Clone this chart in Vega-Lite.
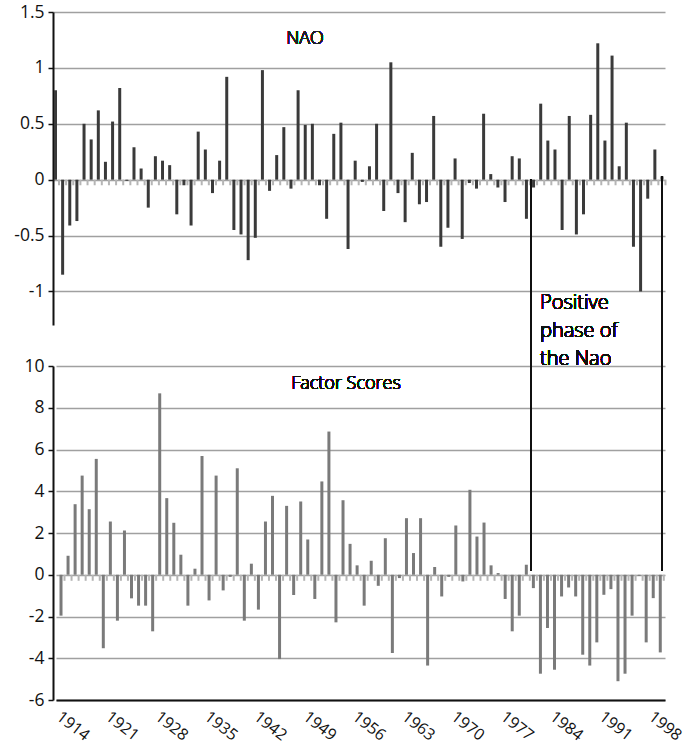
{
  "$schema": "https://vega.github.io/schema/vega-lite/v6.json",
  "width": 612,
  "height": 688,
  "autosize": {"type": "none"},
  "padding": {"left": 53, "top": 12, "right": 23, "bottom": 50},
  "background": "white",
  "config": {
    "view": {"stroke": null},
    "font": "Open Sans",
    "axis": {"labelFont": "Open Sans", "labelColor": "#111111", "labelFontWeight": "normal"}
  },
  "data": {
    "values": [
      {"year": 1914, "nao": 0.80, "factor": -1.96},
      {"year": 1915, "nao": -0.85, "factor": 0.91},
      {"year": 1916, "nao": -0.41, "factor": 3.38},
      {"year": 1917, "nao": -0.37, "factor": 4.75},
      {"year": 1918, "nao": 0.50, "factor": 3.14},
      {"year": 1919, "nao": 0.36, "factor": 5.55},
      {"year": 1920, "nao": 0.62, "factor": -3.52},
      {"year": 1921, "nao": 0.16, "factor": 2.55},
      {"year": 1922, "nao": 0.52, "factor": -2.20},
      {"year": 1923, "nao": 0.82, "factor": 2.12},
      {"year": 1924, "nao": -0.01, "factor": -1.13},
      {"year": 1925, "nao": 0.29, "factor": -1.48},
      {"year": 1926, "nao": 0.10, "factor": -1.48},
      {"year": 1927, "nao": -0.25, "factor": -2.71},
      {"year": 1928, "nao": 0.21, "factor": 8.69},
      {"year": 1929, "nao": 0.17, "factor": 3.67},
      {"year": 1930, "nao": 0.13, "factor": 2.49},
      {"year": 1931, "nao": -0.31, "factor": 0.96},
      {"year": 1932, "nao": -0.05, "factor": -1.48},
      {"year": 1933, "nao": -0.41, "factor": 0.29},
      {"year": 1934, "nao": 0.43, "factor": 5.69},
      {"year": 1935, "nao": 0.27, "factor": -1.23},
      {"year": 1936, "nao": -0.12, "factor": 4.75},
      {"year": 1937, "nao": 0.17, "factor": -0.75},
      {"year": 1938, "nao": 0.92, "factor": -0.10},
      {"year": 1939, "nao": -0.45, "factor": 5.10},
      {"year": 1940, "nao": -0.49, "factor": -2.20},
      {"year": 1941, "nao": -0.72, "factor": 0.53},
      {"year": 1942, "nao": -0.52, "factor": -1.67},
      {"year": 1943, "nao": 0.98, "factor": 2.55},
      {"year": 1944, "nao": -0.10, "factor": 3.78},
      {"year": 1945, "nao": 0.22, "factor": -4.04},
      {"year": 1946, "nao": 0.47, "factor": 3.30},
      {"year": 1947, "nao": -0.08, "factor": -0.97},
      {"year": 1948, "nao": 0.80, "factor": 3.51},
      {"year": 1949, "nao": 0.49, "factor": 1.69},
      {"year": 1950, "nao": 0.50, "factor": -1.16},
      {"year": 1951, "nao": -0.05, "factor": 4.47},
      {"year": 1952, "nao": -0.35, "factor": 6.86},
      {"year": 1953, "nao": 0.41, "factor": -2.28},
      {"year": 1954, "nao": 0.51, "factor": 3.57},
      {"year": 1955, "nao": -0.62, "factor": 1.48},
      {"year": 1956, "nao": 0.17, "factor": 0.45},
      {"year": 1957, "nao": -0.02, "factor": -1.48},
      {"year": 1958, "nao": 0.12, "factor": 0.67},
      {"year": 1959, "nao": 0.50, "factor": -0.53},
      {"year": 1960, "nao": -0.28, "factor": 1.75},
      {"year": 1961, "nao": 1.05, "factor": -3.75},
      {"year": 1962, "nao": -0.12, "factor": -0.16},
      {"year": 1963, "nao": -0.38, "factor": 2.71},
      {"year": 1964, "nao": 0.24, "factor": 1.04},
      {"year": 1965, "nao": -0.22, "factor": 2.71},
      {"year": 1966, "nao": -0.20, "factor": -4.35},
      {"year": 1967, "nao": 0.57, "factor": 0.37},
      {"year": 1968, "nao": -0.60, "factor": -1.04},
      {"year": 1969, "nao": -0.43, "factor": -0.10},
      {"year": 1970, "nao": 0.19, "factor": 2.36},
      {"year": 1971, "nao": -0.53, "factor": -0.32},
      {"year": 1972, "nao": -0.03, "factor": 4.07},
      {"year": 1973, "nao": -0.08, "factor": 1.83},
      {"year": 1974, "nao": 0.59, "factor": 2.50},
      {"year": 1975, "nao": 0.05, "factor": 0.45},
      {"year": 1976, "nao": -0.07, "factor": 0.08},
      {"year": 1977, "nao": -0.20, "factor": -1.16},
      {"year": 1978, "nao": 0.21, "factor": -2.71},
      {"year": 1979, "nao": 0.19, "factor": -1.96},
      {"year": 1980, "nao": -0.35, "factor": 0.48},
      {"year": 1981, "nao": -0.07, "factor": -0.64},
      {"year": 1982, "nao": 0.68, "factor": -4.74},
      {"year": 1983, "nao": 0.35, "factor": -2.55},
      {"year": 1984, "nao": 0.27, "factor": -4.55},
      {"year": 1985, "nao": -0.45, "factor": -1.04},
      {"year": 1986, "nao": 0.57, "factor": -0.61},
      {"year": 1987, "nao": -0.49, "factor": -1.04},
      {"year": 1988, "nao": -0.31, "factor": -3.83},
      {"year": 1989, "nao": 0.58, "factor": -4.35},
      {"year": 1990, "nao": 1.22, "factor": -3.24},
      {"year": 1991, "nao": 0.35, "factor": -0.96},
      {"year": 1992, "nao": 1.11, "factor": -0.69},
      {"year": 1993, "nao": 0.12, "factor": -5.10},
      {"year": 1994, "nao": 0.51, "factor": -4.74},
      {"year": 1995, "nao": -0.60, "factor": -1.96},
      {"year": 1996, "nao": -1.00, "factor": -0.05},
      {"year": 1997, "nao": -0.17, "factor": -3.24},
      {"year": 1998, "nao": 0.27, "factor": -1.12},
      {"year": 1999, "nao": 0.03, "factor": -3.72}
    ]
  },
  "layer": [
    {
      "mark": {"type": "rule", "strokeWidth": 3, "color": "#3a3a3a"},
      "encoding": {
        "x": {"field": "year", "type": "quantitative", "scale": {"domain": [1913.65, 1999.42], "range": [0, 612], "nice": false, "zero": false}, "axis": null},
        "y": {
          "field": "nao", "type": "quantitative",
          "scale": {"domain": [-1.3, 1.5], "range": [313, 0], "nice": false, "zero": false},
          "axis": {
            "orient": "left", "values": [-1, -0.5, 0, 0.5, 1, 1.5], "title": null,
            "labelExpr": "toString(datum.value)",
            "grid": true, "gridColor": "#a0a0a0", "gridWidth": 1.5,
            "domain": true, "domainColor": "#111111", "domainWidth": 2,
            "ticks": true, "tickColor": "#111111", "tickSize": 5, "tickWidth": 1.5,
            "labelFontSize": 17.5, "labelPadding": 4
          }
        },
        "y2": {"datum": 0}
      }
    },
    {
      "mark": {"type": "rule", "strokeWidth": 2, "color": "#b5b5b5", "xOffset": 3.5},
      "encoding": {
        "x": {"field": "year", "type": "quantitative", "scale": {"domain": [1913.65, 1999.42], "range": [0, 612], "nice": false, "zero": false}, "axis": null},
        "y": {"datum": 0, "scale": {"domain": [-1.3, 1.5], "range": [313, 0], "nice": false, "zero": false}, "axis": null},
        "y2": {"datum": -0.05}
      }
    },
    {
      "mark": {"type": "rule", "strokeWidth": 1.5, "color": "#111111"},
      "encoding": {
        "x": {"datum": 1980.65, "scale": {"domain": [1913.65, 1999.42], "range": [0, 612], "nice": false, "zero": false}, "axis": null},
        "y": {"datum": 0, "scale": {"domain": [-1.3, 1.5], "range": [313, 0], "nice": false, "zero": false}, "axis": null},
        "y2": {"datum": -3.5}
      }
    },
    {
      "mark": {"type": "rule", "strokeWidth": 1.5, "color": "#111111"},
      "encoding": {
        "x": {"datum": 1999.0, "scale": {"domain": [1913.65, 1999.42], "range": [0, 612], "nice": false, "zero": false}, "axis": null},
        "y": {"datum": 0.03, "scale": {"domain": [-1.3, 1.5], "range": [313, 0], "nice": false, "zero": false}, "axis": null},
        "y2": {"datum": -3.5}
      }
    },
    {
      "mark": {"type": "text", "text": "NAO", "font": "Open Sans", "fontSize": 18, "fontWeight": 300, "align": "center", "baseline": "middle", "fill": "#222222", "stroke": null},
      "encoding": {
        "x": {"datum": 1948.97, "scale": {"domain": [1913.65, 1999.42], "range": [0, 612], "nice": false, "zero": false}, "axis": null},
        "y": {"datum": 1.258, "scale": {"domain": [-1.3, 1.5], "range": [313, 0], "nice": false, "zero": false}, "axis": null}
      }
    },
    {
      "mark": {"type": "text", "text": ["Positive", "phase of", "the Nao"], "font": "Open Sans", "fontSize": 20, "fontWeight": 300, "lineHeight": 28, "align": "left", "baseline": "top", "fill": "#111111", "stroke": null},
      "encoding": {
        "x": {"datum": 1981.9, "scale": {"domain": [1913.65, 1999.42], "range": [0, 612], "nice": false, "zero": false}, "axis": null},
        "y": {"datum": -1.01, "scale": {"domain": [-1.3, 1.5], "range": [313, 0], "nice": false, "zero": false}, "axis": null}
      }
    },
    {
      "mark": {"type": "rule", "strokeWidth": 3, "color": "#7a7a7a"},
      "encoding": {
        "x": {
          "field": "year", "type": "quantitative",
          "scale": {"domain": [1913.29, 1999.67], "range": [3, 612], "nice": false, "zero": false},
          "axis": {
            "orient": "bottom", "values": [1914, 1921, 1928, 1935, 1942, 1949, 1956, 1963, 1970, 1977, 1984, 1991, 1998],
            "title": null, "labelExpr": "toString(datum.value)", "grid": false,
            "domain": true, "domainColor": "#111111", "domainWidth": 2, "ticks": false,
            "labelAngle": 38, "labelAlign": "left", "labelBaseline": "top", "labelPadding": 8, "labelOffset": 2,
            "labelFontSize": 16
          }
        },
        "y": {
          "field": "factor", "type": "quantitative",
          "scale": {"domain": [-6, 10], "range": [688, 354], "nice": false, "zero": false},
          "axis": {
            "orient": "left", "values": [-6, -4, -2, 0, 2, 4, 6, 8, 10], "title": null,
            "labelExpr": "toString(datum.value)",
            "grid": true, "gridColor": "#a0a0a0", "gridWidth": 1.5,
            "domain": true, "domainColor": "#111111", "domainWidth": 2,
            "ticks": true, "tickColor": "#111111", "tickSize": 5, "tickWidth": 1.5,
            "labelFontSize": 17.5, "labelPadding": 4
          }
        },
        "y2": {"datum": 0}
      }
    },
    {
      "mark": {"type": "rule", "strokeWidth": 2, "color": "#b5b5b5", "xOffset": 3.5},
      "encoding": {
        "x": {"field": "year", "type": "quantitative", "scale": {"domain": [1913.29, 1999.67], "range": [3, 612], "nice": false, "zero": false}, "axis": null},
        "y": {"datum": 0, "scale": {"domain": [-6, 10], "range": [688, 354], "nice": false, "zero": false}, "axis": null},
        "y2": {"datum": -0.29}
      }
    },
    {
      "mark": {"type": "text", "text": "Factor Scores", "font": "Open Sans", "fontSize": 18, "fontWeight": 300, "align": "center", "baseline": "middle", "fill": "#111111", "stroke": null},
      "encoding": {
        "x": {"datum": 1954.42, "scale": {"domain": [1913.29, 1999.67], "range": [3, 612], "nice": false, "zero": false}, "axis": null},
        "y": {"datum": 9.14, "scale": {"domain": [-6, 10], "range": [688, 354], "nice": false, "zero": false}, "axis": null}
      }
    }
  ],
  "resolve": {"scale": {"x": "independent", "y": "independent"}}
}
